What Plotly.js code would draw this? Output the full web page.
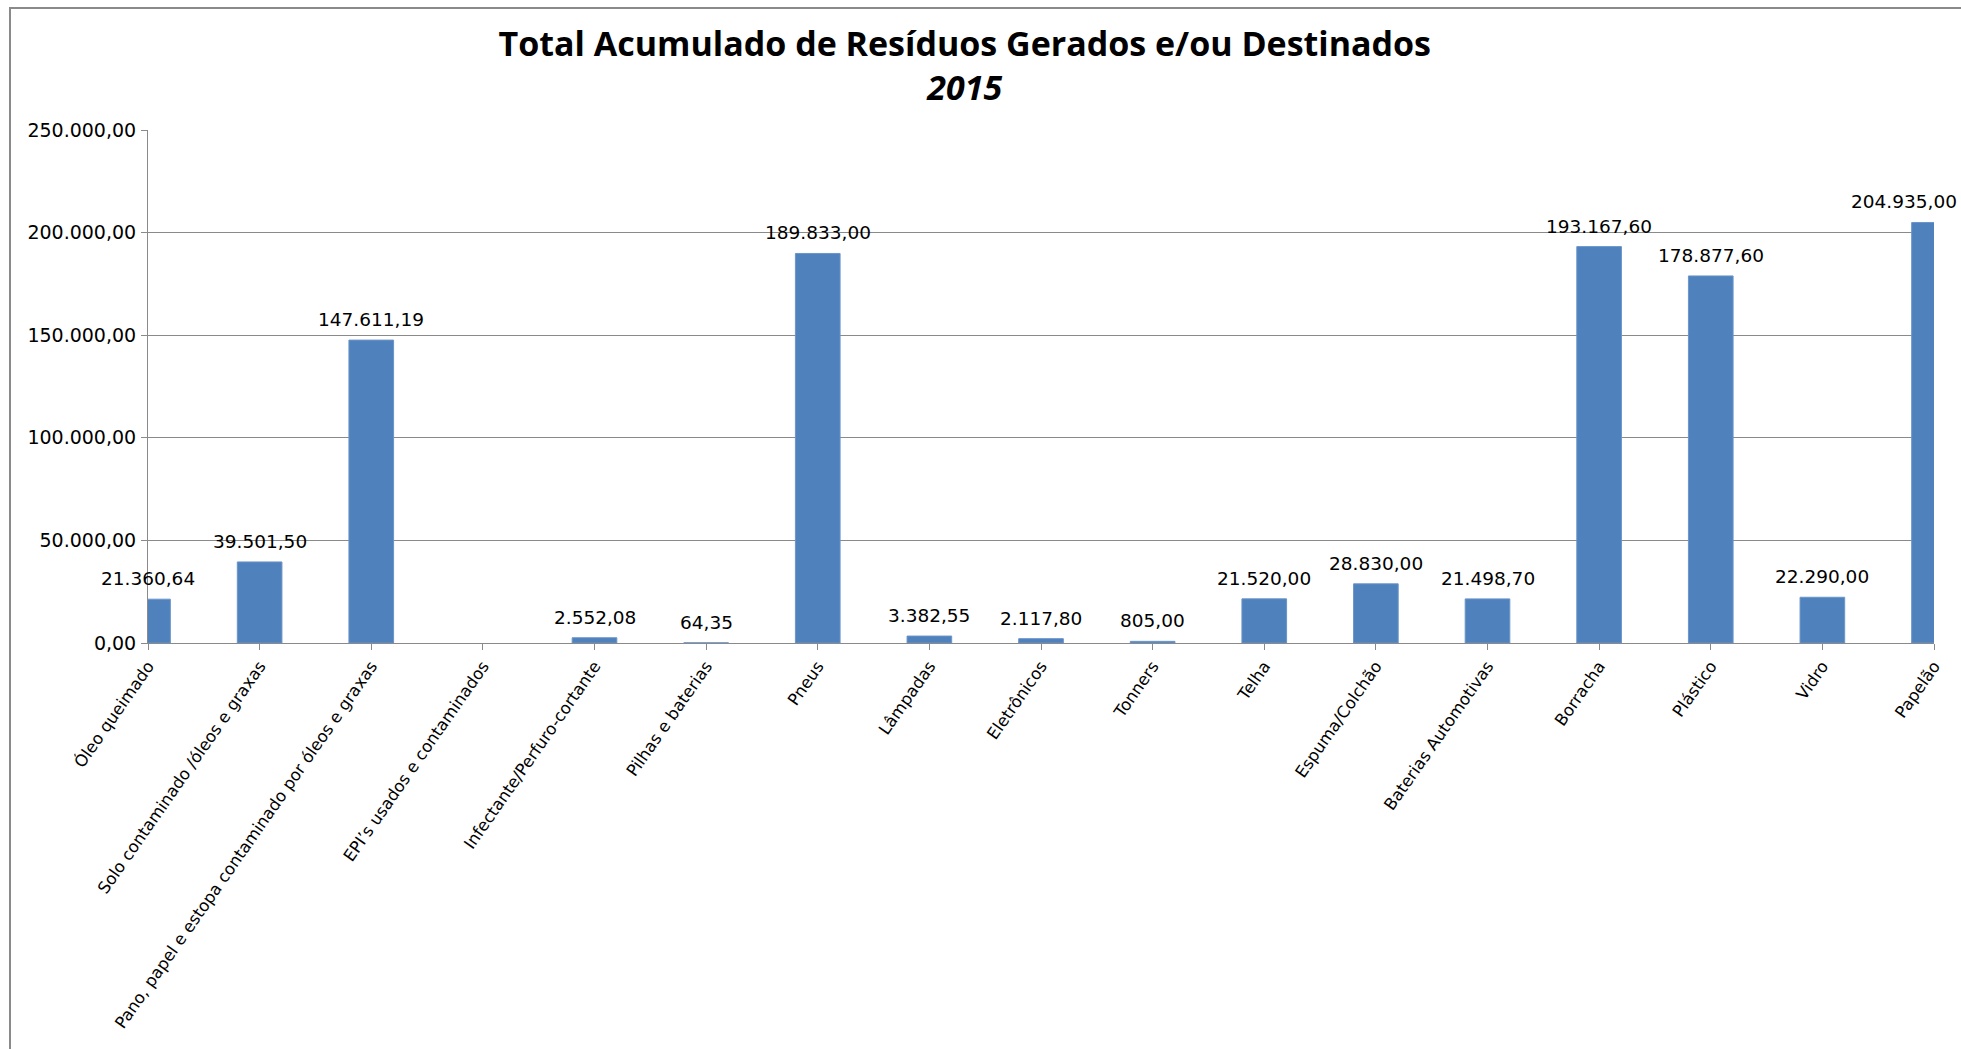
<!DOCTYPE html>
<html>
<head>
<meta charset="utf-8">
<script src="https://cdn.plot.ly/plotly-3.0.1.min.js"></script>
<style>
  html, body { margin: 0; padding: 0; background: #ffffff; }
  #chart { position: absolute; left: 0; top: 0; width: 1961px; height: 1049px; }
  #frame { position: absolute; left: 9px; top: 7px; width: 1990px; height: 1100px;
           border-left: 2px solid #8a8a8a; border-top: 2px solid #8a8a8a; pointer-events: none; }
</style>
</head>
<body>
<div id="chart"></div>
<div id="frame"></div>
<script>
// ---- data ----
const categories = [
  "Óleo queimado",
  "Solo contaminado /óleos e graxas",
  "Pano, papel e estopa contaminado por óleos e graxas",
  "EPI’s usados e contaminados",
  "Infectante/Perfuro-cortante",
  "Pilhas e baterias",
  "Pneus",
  "Lâmpadas",
  "Eletrônicos",
  "Tonners",
  "Telha",
  "Espuma/Colchão",
  "Baterias Automotivas",
  "Borracha",
  "Plástico",
  "Vidro",
  "Papelão"
];
const values = [
  21360.64, 39501.50, 147611.19, null, 2552.08, 64.35, 189833.00, 3382.55,
  2117.80, 805.00, 21520.00, 28830.00, 21498.70, 193167.60, 178877.60, 22290.00, 204935.00
];
const yTickValues = [0, 50000, 100000, 150000, 200000, 250000];
const chartTitle = "Total Acumulado de Resíduos Gerados e/ou Destinados";
const chartSubtitle = "2015";

// ---- helpers ----
function fmt(v) {
  const parts = v.toFixed(2).split(".");
  const intPart = parts[0].replace(/\B(?=(\d{3})+(?!\d))/g, ".");
  return intPart + "," + parts[1];
}

const labelFont = { family: "DejaVu Sans", size: 18.5, color: "#000000" };

// data labels above each bar (the last one is kept inside the chart area, as Excel does)
const annotations = [];
categories.forEach((c, i) => {
  if (values[i] === null) return;
  const isLast = i === categories.length - 1;
  annotations.push({
    x: c, y: values[i], xref: "x", yref: "y",
    text: fmt(values[i]),
    showarrow: false, yanchor: "bottom",
    xanchor: isLast ? "right" : "center",
    xshift: isLast ? 25 : 0,
    yshift: 8,
    font: labelFont
  });
});

const trace = {
  type: "bar",
  x: categories,
  y: values,
  width: 0.4,
  marker: { color: "#4F81BD", line: { color: "#6a95c9", width: 1 } },
  hoverinfo: "x+y"
};

const layout = {
  width: 1961,
  height: 1049,
  paper_bgcolor: "#ffffff",
  plot_bgcolor: "#ffffff",
  separators: ",.",
  showlegend: false,
  margin: { l: 148, r: 27, t: 130, b: 406, pad: 0 },
  title: {
    text: "<b>" + chartTitle + "</b><br><b><i>" + chartSubtitle + "</i></b>",
    font: { family: "Open Sans", size: 34, color: "#000000" },
    x: 0.492, xanchor: "center", xref: "container",
    y: 1 - 56 / 1049, yanchor: "middle", yref: "container"
  },
  xaxis: {
    type: "category",
    range: [0, 16],
    tickangle: -55,
    tickfont: { family: "DejaVu Sans", size: 16.5, color: "#000000" },
    ticks: "outside",
    ticklen: 6,
    tickcolor: "#8a8a8a",
    showline: true,
    linecolor: "#8a8a8a",
    linewidth: 1,
    showgrid: false,
    zeroline: false,
    automargin: false
  },
  yaxis: {
    range: [0, 250000],
    tickvals: yTickValues,
    tickformat: ",.2f",
    tickfont: { family: "DejaVu Sans", size: 19, color: "#000000" },
    ticks: "outside",
    ticklen: 6,
    tickcolor: "#8a8a8a",
    ticklabelstandoff: 1,
    showline: true,
    linecolor: "#8a8a8a",
    linewidth: 1,
    showgrid: true,
    gridcolor: "#8a8a8a",
    gridwidth: 1,
    zeroline: false,
    automargin: false
  },
  annotations: annotations
};

Plotly.newPlot("chart", [trace], layout, { staticPlot: true });
</script>
</body>
</html>
